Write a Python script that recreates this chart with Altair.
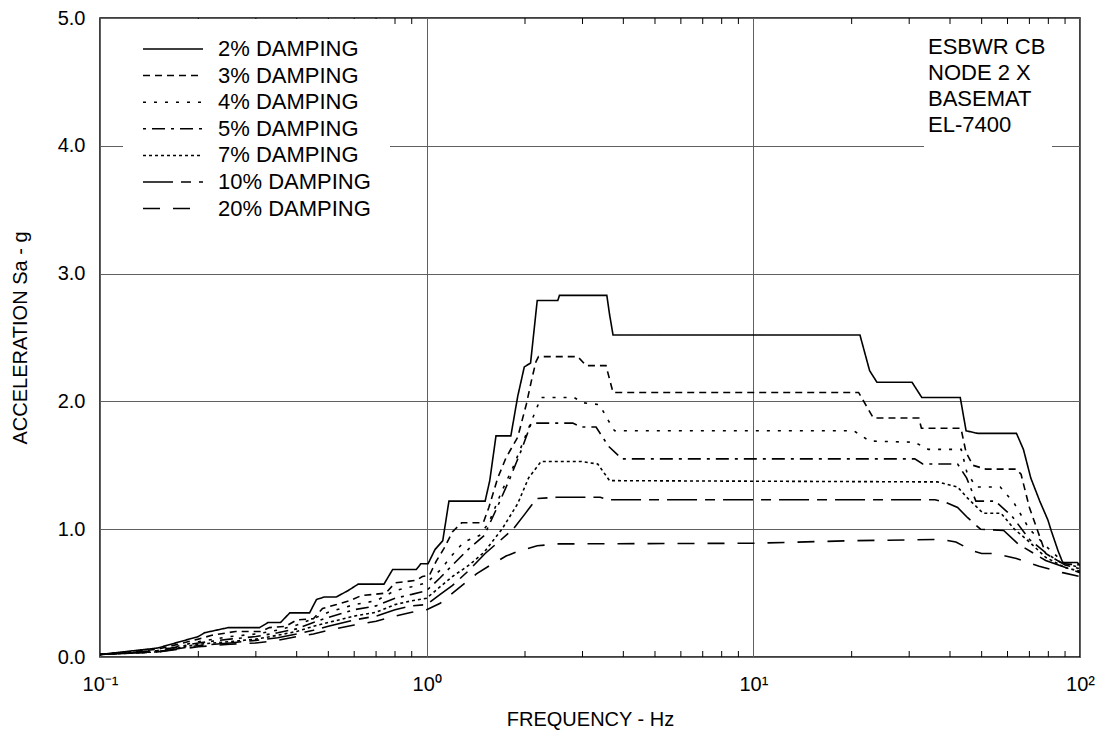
import altair as alt
import pandas as pd

FONT = "Liberation Sans"

SERIES = ["2% DAMPING", "3% DAMPING", "4% DAMPING", "5% DAMPING",
          "7% DAMPING", "10% DAMPING", "20% DAMPING"]
DASHES = [[1, 0], [7, 5], [3, 8], [3, 6, 13, 6], [3, 3], [30, 8, 10, 8], [17, 13]]

F_2 = [0.1, 0.15, 0.2, 0.209, 0.247, 0.308, 0.327, 0.357, 0.381, 0.438, 0.46, 0.487, 0.529, 0.575,
       0.617, 0.74, 0.787, 0.93, 0.96, 1.01, 1.06, 1.12, 1.17, 1.51, 1.56, 1.63, 1.81, 1.90, 1.99,
       2.08, 2.18, 2.52, 2.55, 3.56, 3.63, 3.72, 21.2, 22.7, 23.9, 30.6, 32.8, 43.0, 44.8, 48.6,
       63.9, 67.1, 70.7, 75.3, 79.8, 81.6, 85.7, 88.5, 98.0, 100.0]
A_2 = [0.02, 0.07, 0.16, 0.19, 0.23, 0.23, 0.27, 0.27, 0.345, 0.345, 0.45, 0.47, 0.47, 0.52,
       0.57, 0.57, 0.685, 0.685, 0.73, 0.73, 0.84, 0.91, 1.22, 1.22, 1.38, 1.73, 1.73, 2.04, 2.27,
       2.30, 2.79, 2.79, 2.83, 2.83, 2.68, 2.52, 2.52, 2.24, 2.15, 2.15, 2.03, 2.03, 1.77, 1.75,
       1.75, 1.625, 1.40, 1.22, 1.07, 0.99, 0.83, 0.74, 0.74, 0.72]

F_3 = [0.1, 0.15, 0.2, 0.22, 0.26, 0.31, 0.33, 0.37, 0.40, 0.45, 0.48, 0.53, 0.58, 0.63, 0.75,
       0.80, 0.93, 0.97, 1.02, 1.07, 1.13, 1.2, 1.28, 1.49, 1.55, 1.65, 1.75, 1.90, 2.02, 2.10,
       2.16, 2.2, 2.9, 3.08, 3.54, 3.72, 21.0, 23.3, 32.1, 32.7, 43.2, 44.8, 47.0, 51.5, 63.8,
       66.0, 70.0, 78.5, 88.5, 100.0]
A_3 = [0.02, 0.06, 0.14, 0.17, 0.2, 0.2, 0.23, 0.24, 0.29, 0.3, 0.38, 0.41, 0.44, 0.48, 0.5,
       0.58, 0.6, 0.63, 0.64, 0.75, 0.85, 0.98, 1.05, 1.05, 1.17, 1.40, 1.56, 1.72, 1.98, 2.18,
       2.31, 2.35, 2.35, 2.28, 2.28, 2.07, 2.07, 1.87, 1.87, 1.79, 1.79, 1.60, 1.50, 1.47, 1.47,
       1.43, 1.17, 0.81, 0.73, 0.72]

F_4 = [0.1, 0.15, 0.2, 0.25, 0.3, 0.35, 0.4, 0.45, 0.5, 0.6, 0.7, 0.8, 0.9, 1.0, 1.1, 1.2, 1.3,
       1.45, 1.55, 1.7, 1.85, 2.0, 2.15, 2.24, 2.83, 3.0, 3.38, 3.6, 3.76, 20.3, 22.7, 31.2, 34.3,
       43.3, 45.0, 48.0, 57.0, 63.0, 70.0, 80.0, 90.0, 100.0]
A_4 = [0.02, 0.05, 0.12, 0.16, 0.18, 0.21, 0.25, 0.3, 0.35, 0.41, 0.44, 0.52, 0.55, 0.58, 0.68,
       0.80, 0.90, 0.95, 1.05, 1.30, 1.50, 1.72, 1.92, 2.03, 2.03, 1.99, 1.975, 1.85, 1.77, 1.77,
       1.69, 1.68, 1.625, 1.625, 1.45, 1.33, 1.33, 1.2, 1.0, 0.85, 0.73, 0.70]

F_5 = [0.1, 0.15, 0.2, 0.25, 0.3, 0.35, 0.4, 0.45, 0.5, 0.6, 0.7, 0.8, 0.9, 1.0, 1.1, 1.2, 1.35,
       1.5, 1.65, 1.8, 1.95, 2.09, 2.8, 2.97, 3.3, 3.6, 3.96, 31.2, 33.0, 42.2, 45.0, 48.0, 55.0,
       62.0, 70.0, 80.0, 90.0, 100.0]
A_5 = [0.02, 0.05, 0.11, 0.14, 0.16, 0.19, 0.22, 0.27, 0.31, 0.37, 0.40, 0.46, 0.49, 0.52, 0.62,
       0.72, 0.85, 0.95, 1.18, 1.40, 1.62, 1.83, 1.83, 1.80, 1.80, 1.65, 1.55, 1.55, 1.51, 1.51,
       1.40, 1.22, 1.22, 1.1, 0.92, 0.80, 0.72, 0.69]

F_7 = [0.1, 0.15, 0.2, 0.25, 0.3, 0.35, 0.4, 0.45, 0.5, 0.6, 0.7, 0.8, 0.9, 1.0, 1.1, 1.2, 1.35,
       1.5, 1.7, 1.9, 2.05, 2.24, 2.97, 3.34, 3.63, 36.6, 42.2, 45.0, 50.5, 57.3, 63.0, 70.0, 78.5,
       90.0, 100.0]
A_7 = [0.02, 0.04, 0.10, 0.12, 0.14, 0.17, 0.20, 0.24, 0.27, 0.32, 0.35, 0.41, 0.44, 0.46, 0.55,
       0.63, 0.72, 0.82, 1.0, 1.2, 1.40, 1.53, 1.53, 1.51, 1.38, 1.37, 1.33, 1.25, 1.125, 1.125,
       1.0, 0.90, 0.78, 0.70, 0.67]

F_10 = [0.1, 0.15, 0.2, 0.25, 0.3, 0.35, 0.4, 0.45, 0.5, 0.6, 0.7, 0.8, 0.9, 1.0, 1.1, 1.2, 1.35,
        1.51, 1.84, 2.0, 2.17, 2.5, 3.4, 3.6, 36.0, 38.8, 42.2, 45.3, 49.6, 58.4, 64.6, 78.5, 100.0]
A_10 = [0.02, 0.04, 0.09, 0.11, 0.13, 0.15, 0.18, 0.21, 0.24, 0.29, 0.32, 0.37, 0.40, 0.41, 0.49,
        0.56, 0.68, 0.81, 1.0, 1.12, 1.24, 1.25, 1.25, 1.23, 1.23, 1.21, 1.17, 1.09, 1.00, 0.99,
        0.885, 0.755, 0.66]

F_20 = [0.1, 0.15, 0.2, 0.25, 0.3, 0.35, 0.4, 0.45, 0.5, 0.6, 0.7, 0.8, 0.9, 1.0, 1.1, 1.2, 1.42,
        1.57, 1.75, 1.92, 2.18, 2.5, 10.0, 20.0, 37.6, 41.7, 47.0, 50.0, 55.0, 63.9, 75.0, 88.5, 100.0]
A_20 = [0.02, 0.04, 0.08, 0.10, 0.11, 0.13, 0.16, 0.18, 0.21, 0.25, 0.28, 0.32, 0.35, 0.37, 0.42,
        0.50, 0.65, 0.72, 0.79, 0.83, 0.87, 0.885, 0.89, 0.91, 0.92, 0.90, 0.83, 0.81, 0.81, 0.77,
        0.71, 0.66, 0.63]

MAJOR_X = [0.1, 1, 10, 100]
MINOR_X = [0.2, 0.3, 0.4, 0.5, 0.6, 0.7, 0.8, 0.9, 2, 3, 4, 5, 6, 7, 8, 9,
           20, 30, 40, 50, 60, 70, 80, 90]
Y_TICKS = [0, 1, 2, 3, 4, 5]
ANNOT_LINES = ["ESBWR CB", "NODE 2 X", "BASEMAT", "EL-7400"]

W, H = 980, 639

pairs = [(F_2, A_2), (F_3, A_3), (F_4, A_4), (F_5, A_5), (F_7, A_7), (F_10, A_10), (F_20, A_20)]
rows = []
for name, (fs, acc) in zip(SERIES, pairs):
    for f, a in zip(fs, acc):
        rows.append({"freq": f, "acc": a, "series": name})
df = pd.DataFrame(rows)

xscale = alt.Scale(type="log", domain=[0.1, 100], nice=False)
xaxis = alt.Axis(values=MAJOR_X, grid=True, ticks=False, domain=False,
                 labelExpr="datum.value < 0.5 ? '10⁻¹' : datum.value < 5 ? '10⁰' : datum.value < 50 ? '10¹' : '10²'",
                 labelFlush=False, labelOverlap=False, labelPadding=17,
                 title="FREQUENCY - Hz", titleY=52, titleBaseline="top")
X = alt.X("freq:Q", scale=xscale, axis=xaxis, title="FREQUENCY - Hz")

lines = alt.Chart(df).mark_line(color="black", strokeWidth=1.6, clip=True).encode(
    x=X,
    y=alt.Y("acc:Q", scale=alt.Scale(domain=[0, 5], nice=False),
            axis=alt.Axis(values=Y_TICKS, format=".1f", grid=True, ticks=False, domain=False,
                          labelPadding=15, title="ACCELERATION Sa - g",
                          titleX=-80, titleY=H / 2, titleAngle=270, titleBaseline="middle",
                          titleAlign="center")),
    strokeDash=alt.StrokeDash(
        "series:N", sort=SERIES,
        scale=alt.Scale(domain=SERIES, range=DASHES),
        legend=alt.Legend(title=None, orient="none", legendX=23, legendY=1,
                          symbolType="M-1,0H5", symbolSize=400, symbolStrokeWidth=1.5,
                          symbolStrokeColor="black", symbolFillColor="transparent",
                          labelFontSize=22, labelFont=FONT, labelColor="black",
                          labelOffset=54, labelLimit=400, rowPadding=4.6, padding=19,
                          fillColor="white")),
    detail="series:N",
)

tick_df = pd.DataFrame({"freq": MINOR_X})
ticks_bottom = alt.Chart(tick_df).mark_rule(color="black", strokeWidth=1).encode(
    x=X, y=alt.value(H), y2=alt.value(H - 6))
ticks_top = alt.Chart(tick_df).mark_rule(color="black", strokeWidth=1).encode(
    x=X, y=alt.value(0), y2=alt.value(6))

annot_df = pd.DataFrame({"txt": ["\n".join(ANNOT_LINES)]})
annot_bg = alt.Chart(annot_df).mark_rect(color="white").encode(
    x=alt.value(824), x2=alt.value(952), y=alt.value(14), y2=alt.value(134))
annot_text = alt.Chart(annot_df).mark_text(
    align="left", baseline="top", fontSize=22, font=FONT, lineHeight=26,
    lineBreak="\n", color="black").encode(
    x=alt.value(828), y=alt.value(19), text="txt:N")

chart = alt.layer(annot_bg, lines, ticks_bottom, ticks_top, annot_text).properties(
    width=W, height=H,
    autosize=alt.AutoSizeParams(type="none"),
    padding={"left": 92, "top": 10, "right": 15, "bottom": 78},
).configure(font=FONT).configure_view(
    stroke="black", strokeWidth=1.5
).configure_axis(
    labelFont=FONT, titleFont=FONT, labelFontSize=20, titleFontSize=20,
    labelColor="black", titleColor="black", titleFontWeight="normal",
    gridColor="#606060", gridWidth=1, gridOpacity=1
)

chart.save("out.html", embed_options={"renderer": "svg", "actions": False})
